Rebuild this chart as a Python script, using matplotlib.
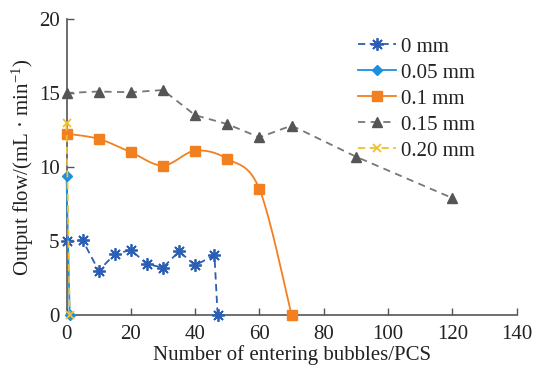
import numpy as np
import matplotlib
matplotlib.use("Agg")
import matplotlib.pyplot as plt

# ---- data ----
x_0mm = [0, 5, 10, 15, 20, 25, 30, 35, 40, 46, 47]
y_0mm = [5.0, 5.05, 3.0, 4.1, 4.4, 3.45, 3.2, 4.3, 3.35, 4.05, 0]

x_005 = [0, 1]
y_005 = [9.4, 0]

x_01 = [0, 10, 20, 30, 40, 50, 60, 70]
y_01 = [12.25, 11.9, 11.0, 10.1, 11.1, 10.55, 8.5, 0]

x_015 = [0, 10, 20, 30, 40, 50, 60, 70, 90, 120]
y_015 = [15.0, 15.1, 15.05, 15.2, 13.5, 12.9, 12.0, 12.8, 10.7, 7.9]

x_020 = [0, 1]
y_020 = [12.95, 0]

labels = ["0 mm", "0.05 mm", "0.1 mm", "0.15 mm", "0.20 mm"]
x_ticks = [0, 20, 40, 60, 80, 100, 120, 140]
y_ticks = [0, 5, 10, 15, 20]

plt.rcParams['font.family'] = ['Liberation Serif', 'DejaVu Serif']
plt.rcParams['mathtext.fontset'] = 'custom'
plt.rcParams['mathtext.rm'] = 'Liberation Serif'
plt.rcParams['mathtext.it'] = 'Liberation Serif:italic'

FS = 15

def smooth(xs, ys, n=20):
    # Catmull-Rom rendering of the line through the data points
    xs = np.asarray(xs, float); ys = np.asarray(ys, float)
    P = np.column_stack([xs, ys])
    P = np.vstack([P[0], P, P[-1]])
    out = []
    t = np.linspace(0, 1, n)[:, None]
    for i in range(1, len(P) - 2):
        p0, p1, p2, p3 = P[i-1], P[i], P[i+1], P[i+2]
        seg = 0.5 * ((2*p1) + (-p0 + p2)*t + (2*p0 - 5*p1 + 4*p2 - p3)*t**2 + (-p0 + 3*p1 - 3*p2 + p3)*t**3)
        out.append(seg if i == 1 else seg[1:])
    out = np.vstack(out)
    return out[:, 0], out[:, 1]

fig = plt.figure(figsize=(5.35, 3.67), dpi=100)
ax = fig.add_axes([66.5/535, 1-315/367, (516.7-66.5)/535, (315-19)/367])

c0 = '#2c5fb3'
c005 = '#1c8fe0'
c01 = '#f28020'
c015 = '#555555'
c020 = '#f0c030'

h0, = ax.plot(x_0mm, y_0mm, linestyle=(0, (4, 2.5)), color=c0, lw=1.3,
              marker=(8, 2, 0), ms=9, mew=1.3, label=labels[0])
h005, = ax.plot(x_005, y_005, '-', color=c005, lw=1.3, marker='D', ms=5.5, label=labels[1])
sx, sy = smooth(x_01, y_01)
ax.plot(sx, sy, '-', color=c01, lw=1.3)
ax.plot(x_01, y_01, linestyle='none', color=c01, marker='s', ms=7)
h01, = ax.plot([], [], '-', color=c01, lw=1.3, marker='s', ms=7, label=labels[2])
h015, = ax.plot(x_015, y_015, linestyle=(0, (4, 3)), color='#777777', lw=1.3,
                marker='^', ms=7.5, mfc=c015, mec=c015, label=labels[3])
h020, = ax.plot(x_020, y_020, linestyle=(0, (4, 2.5)), color=c020, lw=1.3,
                marker='x', ms=6, mew=1.3, label=labels[4])

ax.set_xlim(0, 140)
ax.set_ylim(0, 20)
ax.set_xticks(x_ticks)
ax.set_yticks(y_ticks)
for s in ['top', 'right']:
    ax.spines[s].set_visible(False)
for s in ['left', 'bottom']:
    ax.spines[s].set_color('#555555')
    ax.spines[s].set_linewidth(1.2)
    ax.spines[s].set_zorder(0.5)
ax.tick_params(direction='in', length=5, width=1, color='#555555', labelsize=FS,
               labelcolor='#222222')
ax.tick_params(axis='x', pad=7)
ax.tick_params(axis='y', pad=5)
ax.set_xlabel("Number of entering bubbles/PCS", fontsize=FS, color='#222222', labelpad=1)
ax.set_ylabel("Output flow/(mL · min$^{-1}$)", fontsize=FS, color='#222222', labelpad=2)

for ln in ax.lines:
    ln.set_clip_on(False)

leg = fig.legend(handles=[h0, h005, h01, h015, h020], loc='upper left',
                 bbox_to_anchor=(358/535, 1-37/367), frameon=False, fontsize=FS,
                 handlelength=1.8, handletextpad=0.25, labelspacing=0.31,
                 borderpad=0, borderaxespad=0)
for t in leg.get_texts():
    t.set_color('#222222')

fig.savefig("out.png", dpi=100)
